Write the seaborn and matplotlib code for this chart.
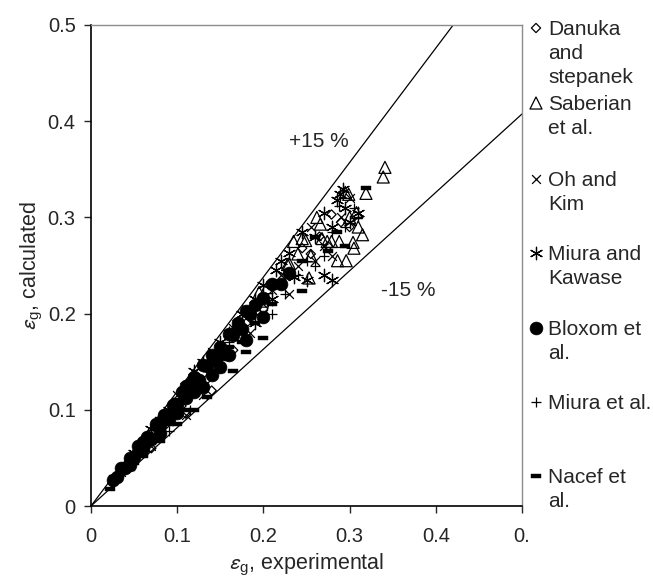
import matplotlib
matplotlib.use("Agg")
import matplotlib.pyplot as plt
import seaborn as sns
import numpy as np
import pandas as pd

sns.set_style("white")
plt.rcParams['font.family'] = ['Liberation Sans', 'DejaVu Sans']
plt.rcParams['mathtext.fontset'] = 'stixsans'

# series names as in the legend
series_names = ["Danuka and stepanek", "Saberian et al.", "Oh and Kim",
                "Miura and Kawase", "Bloxom et al.", "Miura et al.", "Nacef et al."]
legend_labels = ["Danuka\nand\nstepanek", "Saberian\net al.", "Oh and\nKim",
                 "Miura and\nKawase", "Bloxom et\nal.", "Miura et al.", "Nacef et\nal."]

danuka_x = [0.025, 0.032, 0.040, 0.048, 0.055, 0.065, 0.075, 0.085, 0.095, 0.105, 0.120, 0.135,
            0.150, 0.165, 0.180, 0.200, 0.215, 0.230, 0.245, 0.255, 0.265, 0.275, 0.279, 0.290,
            0.300, 0.070, 0.110, 0.140]
danuka_y = [0.024, 0.030, 0.042, 0.046, 0.058, 0.064, 0.078, 0.083, 0.100, 0.104, 0.125, 0.132,
            0.158, 0.162, 0.190, 0.205, 0.230, 0.240, 0.268, 0.262, 0.280, 0.270, 0.303, 0.295,
            0.290, 0.060, 0.096, 0.120]

saberian_x = [0.341, 0.339, 0.319, 0.299, 0.295, 0.308, 0.305, 0.304, 0.296, 0.286, 0.274, 0.268,
              0.279, 0.288, 0.262, 0.249, 0.230, 0.253, 0.245, 0.235, 0.228, 0.204, 0.195, 0.199,
              0.266, 0.310, 0.315, 0.240, 0.255, 0.170, 0.140, 0.100, 0.300]
saberian_y = [0.352, 0.342, 0.325, 0.324, 0.326, 0.305, 0.268, 0.274, 0.255, 0.255, 0.275, 0.278,
              0.275, 0.275, 0.300, 0.276, 0.252, 0.237, 0.278, 0.275, 0.251, 0.227, 0.222, 0.213,
              0.293, 0.290, 0.282, 0.262, 0.260, 0.190, 0.155, 0.105, 0.300]

ohkim_x = [0.300, 0.290, 0.270, 0.260, 0.255, 0.240, 0.220, 0.210, 0.200, 0.180, 0.165, 0.150,
           0.140, 0.120, 0.100, 0.090, 0.075, 0.060, 0.045, 0.035, 0.025, 0.280, 0.230, 0.185,
           0.070, 0.110, 0.130]
ohkim_y = [0.320, 0.300, 0.270, 0.255, 0.290, 0.250, 0.240, 0.225, 0.200, 0.205, 0.185, 0.160,
           0.160, 0.130, 0.115, 0.090, 0.085, 0.065, 0.050, 0.035, 0.028, 0.260, 0.220, 0.180,
           0.062, 0.095, 0.115]

kawase_x = [0.289, 0.285, 0.292, 0.295, 0.245, 0.260, 0.300, 0.220, 0.215, 0.230, 0.235, 0.250,
            0.270, 0.280, 0.200, 0.190, 0.170, 0.160, 0.175, 0.150, 0.130, 0.120, 0.110, 0.090,
            0.070, 0.050, 0.190, 0.210, 0.270, 0.280, 0.310]
kawase_y = [0.324, 0.318, 0.330, 0.310, 0.285, 0.280, 0.295, 0.255, 0.245, 0.263, 0.238, 0.235,
            0.240, 0.235, 0.230, 0.215, 0.190, 0.180, 0.200, 0.170, 0.150, 0.140, 0.125, 0.100,
            0.080, 0.055, 0.190, 0.215, 0.305, 0.290, 0.305]

bloxom_x = [0.025, 0.030, 0.035, 0.040, 0.045, 0.050, 0.055, 0.060, 0.065, 0.070, 0.075, 0.080,
            0.085, 0.090, 0.095, 0.100, 0.105, 0.110, 0.115, 0.120, 0.125, 0.130, 0.135, 0.140,
            0.145, 0.150, 0.155, 0.160, 0.165, 0.170, 0.175, 0.180, 0.185, 0.190, 0.200, 0.210,
            0.220, 0.230, 0.080, 0.100, 0.120, 0.140, 0.160, 0.180, 0.200, 0.060, 0.045, 0.110,
            0.130, 0.150]
bloxom_y = [0.027, 0.030, 0.039, 0.040, 0.050, 0.051, 0.062, 0.060, 0.072, 0.070, 0.085, 0.084,
            0.095, 0.090, 0.105, 0.105, 0.118, 0.112, 0.127, 0.134, 0.131, 0.147, 0.146, 0.157,
            0.152, 0.165, 0.158, 0.179, 0.178, 0.190, 0.184, 0.203, 0.200, 0.209, 0.216, 0.231,
            0.231, 0.242, 0.076, 0.097, 0.118, 0.136, 0.157, 0.173, 0.196, 0.067, 0.043, 0.125,
            0.124, 0.144]

miura_x = [0.310, 0.305, 0.288, 0.295, 0.280, 0.270, 0.260, 0.250, 0.240, 0.225, 0.210, 0.200,
           0.190, 0.180, 0.170, 0.160, 0.150, 0.140, 0.130, 0.120, 0.110, 0.100, 0.085, 0.070,
           0.055, 0.040, 0.030, 0.090, 0.115, 0.065]
miura_y = [0.300, 0.310, 0.312, 0.290, 0.285, 0.260, 0.250, 0.255, 0.240, 0.220, 0.200, 0.215,
           0.200, 0.175, 0.190, 0.170, 0.165, 0.140, 0.145, 0.120, 0.125, 0.100, 0.090, 0.070,
           0.060, 0.042, 0.032, 0.078, 0.100, 0.057]

nacef_x = [0.319, 0.285, 0.295, 0.275, 0.245, 0.230, 0.260, 0.210, 0.190, 0.175, 0.160, 0.150,
           0.140, 0.130, 0.120, 0.110, 0.100, 0.090, 0.080, 0.070, 0.060, 0.050, 0.040, 0.030,
           0.022, 0.180, 0.200, 0.165, 0.245, 0.060, 0.080, 0.100, 0.120, 0.045, 0.135]
nacef_y = [0.331, 0.285, 0.270, 0.265, 0.255, 0.240, 0.280, 0.210, 0.190, 0.170, 0.165, 0.140,
           0.150, 0.120, 0.130, 0.100, 0.110, 0.085, 0.090, 0.065, 0.063, 0.045, 0.040, 0.030,
           0.018, 0.160, 0.175, 0.140, 0.223, 0.052, 0.068, 0.085, 0.100, 0.038, 0.113]

# +15 % / -15 % bounding lines (slopes)
band_slopes = [1.19, 0.815]
band_labels = ["+15 %", "-15 %"]

x_ticks = [0, 0.1, 0.2, 0.3, 0.4, 0.5]
x_ticklabels = ["0", "0.1", "0.2", "0.3", "0.4", "0."]
y_ticks = [0, 0.1, 0.2, 0.3, 0.4, 0.5]
y_ticklabels = ["0", "0.1", "0.2", "0.3", "0.4", "0.5"]

bar = [(-1, -0.4), (1, -0.4), (1, 0.4), (-1, 0.4), (-1, -0.4)]
styles = {
    "Danuka and stepanek": dict(marker="D", s=22, facecolor="none", edgecolor="black", linewidth=0.9),
    "Saberian et al.": dict(marker="^", s=75, facecolor="none", edgecolor="black", linewidth=0.9),
    "Oh and Kim": dict(marker="x", s=40, color="black", linewidth=0.9),
    "Miura and Kawase": dict(marker=(6, 2, 0), s=80, color="black", linewidth=0.9),
    "Bloxom et al.": dict(marker="o", s=85, color="black", edgecolor="black", linewidth=0.5),
    "Miura et al.": dict(marker="+", s=55, color="black", linewidth=0.9),
    "Nacef et al.": dict(marker=bar, s=55, color="black", edgecolor="black", linewidth=0.3),
}

frames = []
for name, xs, ys in zip(series_names,
                        [danuka_x, saberian_x, ohkim_x, kawase_x, bloxom_x, miura_x, nacef_x],
                        [danuka_y, saberian_y, ohkim_y, kawase_y, bloxom_y, miura_y, nacef_y]):
    frames.append(pd.DataFrame({"exp": xs, "calc": ys, "source": name}))
df = pd.concat(frames, ignore_index=True)

fig = plt.figure(figsize=(6.53, 5.77), dpi=100)
ax = fig.add_axes([91 / 653, 1 - 506 / 577, 431 / 653, 481 / 577])

for name in series_names:
    sub = df[df["source"] == name]
    sns.scatterplot(data=sub, x="exp", y="calc", ax=ax, legend=False, **styles[name])

xl = np.array([0, 0.5])
for sl in band_slopes:
    ax.plot(xl, sl * xl, color="black", lw=0.9)

ax.text(0.264, 0.379, band_labels[0], fontsize=15, ha="center", va="center")
ax.text(0.368, 0.2235, band_labels[1], fontsize=15, ha="center", va="center")

ax.set_xlim(0, 0.5)
ax.set_ylim(0, 0.5)
ax.set_xticks(x_ticks)
ax.set_xticklabels(x_ticklabels, fontsize=14.5)
ax.set_yticks(y_ticks)
ax.set_yticklabels(y_ticklabels, fontsize=14.5)
ax.tick_params(direction="out", length=5, width=1, pad=10)
ax.tick_params(axis="y", pad=6)
ax.tick_params(bottom=True, left=True, top=False, right=False)
for side in ["left", "bottom"]:
    ax.spines[side].set_color("black")
    ax.spines[side].set_linewidth(1.2)
for side in ["top", "right"]:
    ax.spines[side].set_color("#8c8c8c")
    ax.spines[side].set_linewidth(1.0)

ax.set_xlabel(r"$\varepsilon_{\mathregular{g}}$, experimental", fontsize=15.5, labelpad=4)
ax.set_ylabel(r"$\varepsilon_{\mathregular{g}}$, calculated", fontsize=15.5, labelpad=3)

# legend drawn by hand: marker sits next to the first text line
leg_y = [28, 103, 179, 253, 328, 402, 476]
for name, lab, py in zip(series_names, legend_labels, leg_y):
    st = dict(styles[name])
    fy = 1 - py / 577
    ax.scatter([536 / 653], [fy], transform=fig.transFigure, clip_on=False, **st)
    fig.text(548 / 653, 1 - (py - 8) / 577, lab, fontsize=15, va="top", ha="left",
             linespacing=1.32)

fig.savefig("out.png", dpi=100)
